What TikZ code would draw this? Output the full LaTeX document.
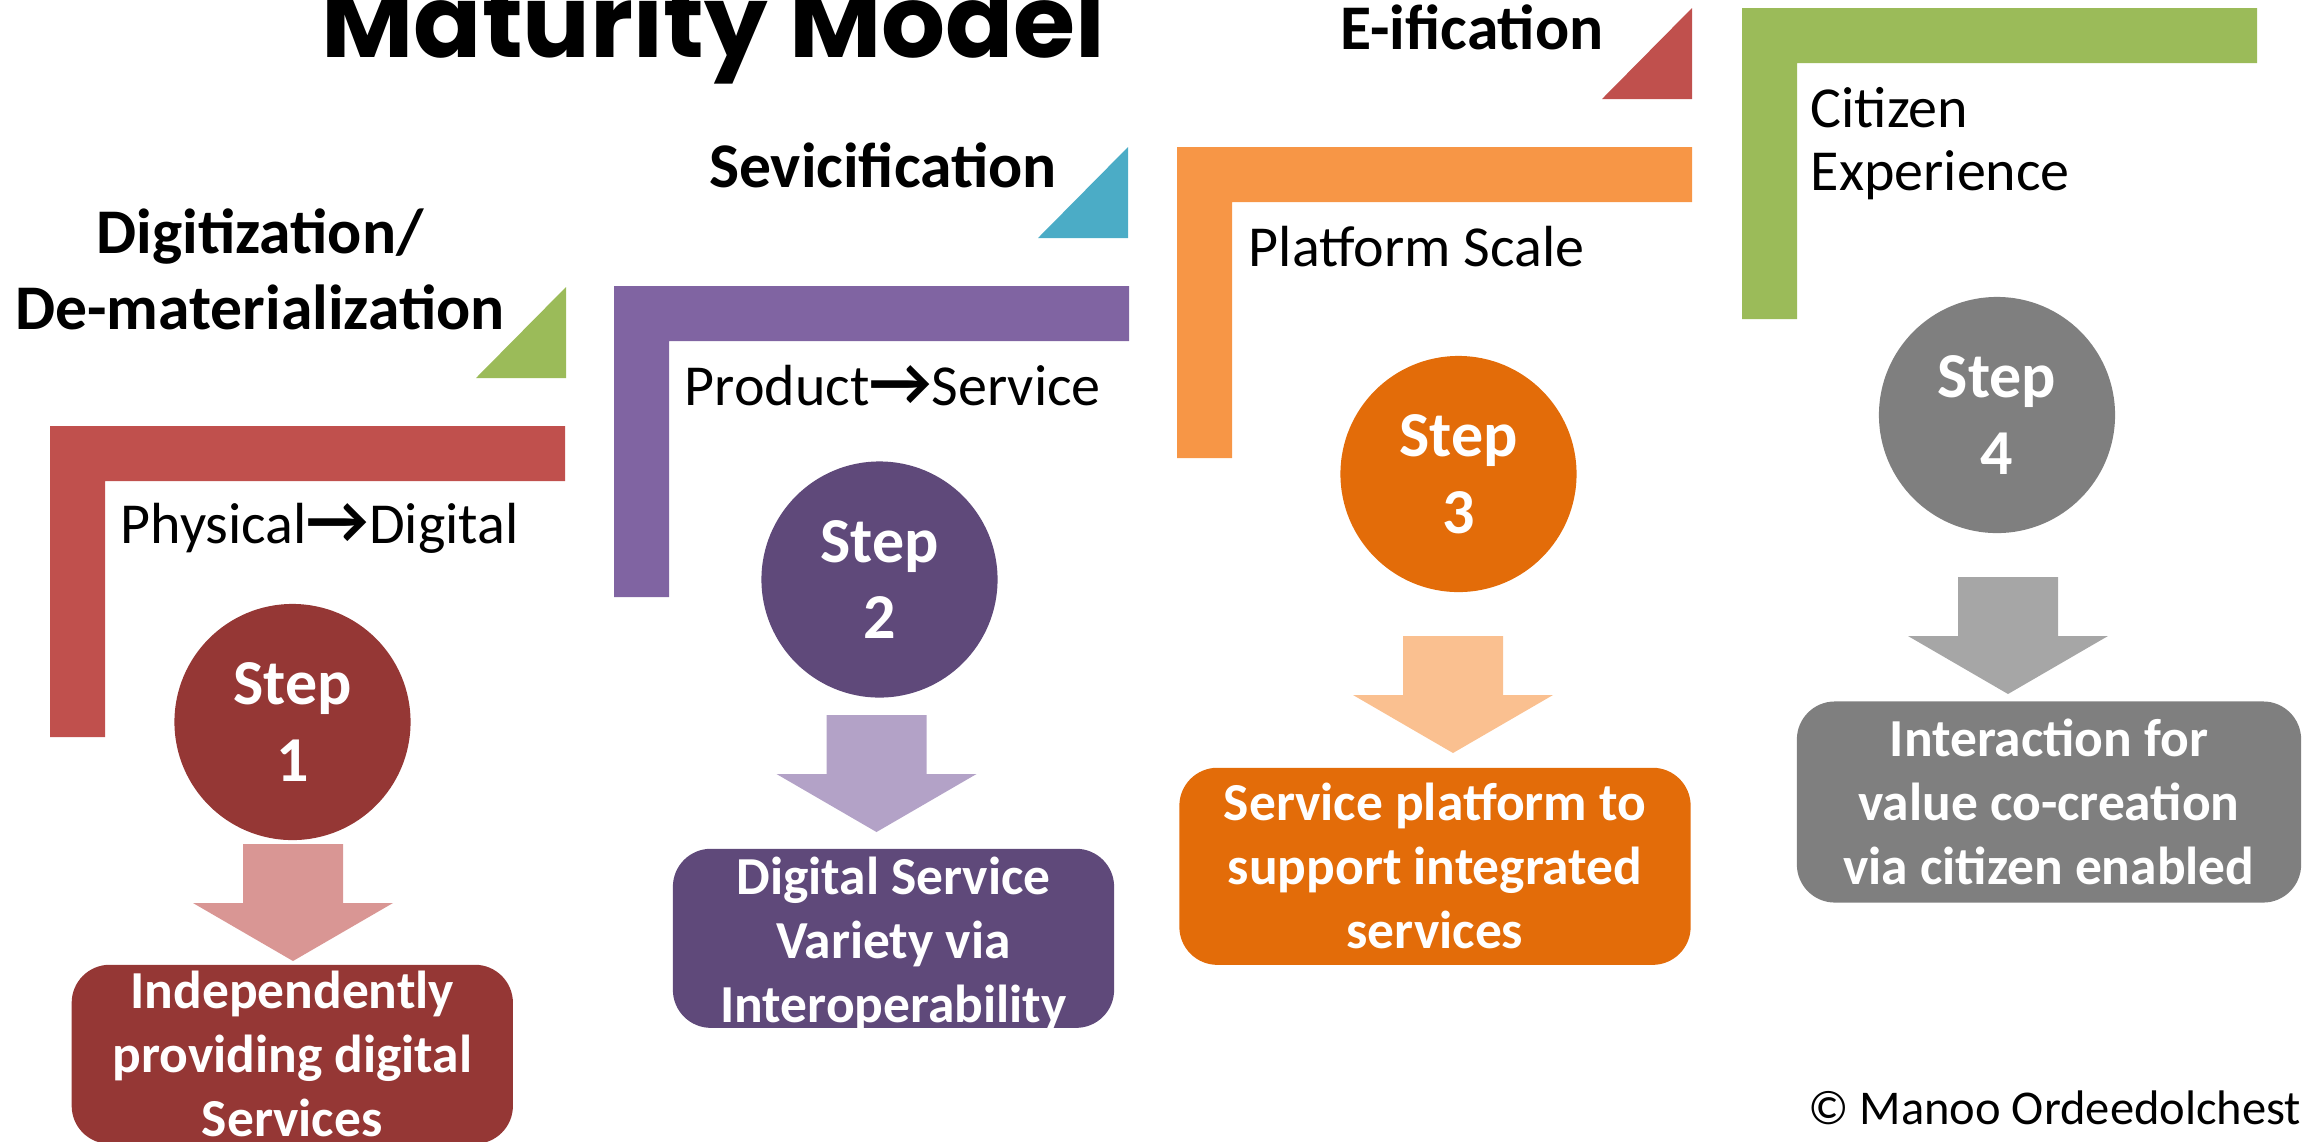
\documentclass[tikz,border=0pt]{standalone}
\usepackage{fontspec}
\setmainfont{Carlito}
\newfontfamily\titlefont{Poppins}
\definecolor{stairred}{HTML}{C0504D}
\definecolor{stairpurple}{HTML}{8064A2}
\definecolor{stairorange}{HTML}{F79646}
\definecolor{stairgreen}{HTML}{9BBB59}
\definecolor{wedgeblue}{HTML}{4BACC6}
\definecolor{stepone}{HTML}{953735}
\definecolor{steptwo}{HTML}{5F497A}
\definecolor{stepthree}{HTML}{E36C09}
\definecolor{stepfour}{HTML}{7F7F7F}
\definecolor{arrowone}{HTML}{D99694}
\definecolor{arrowtwo}{HTML}{B3A2C7}
\definecolor{arrowthree}{HTML}{FAC090}
\definecolor{arrowfour}{HTML}{A6A6A6}
\newcommand{\toarrow}{{\fontsize{19.5}{17.8}\selectfont\bfseries →}}
\tikzset{%
  stepcircle/.style = {shape=circle, inner sep=0pt, minimum size=2.36cm,%
                       align=center, text=white,%
                       font=\fontsize{18.2}{21.8}\selectfont\bfseries},%
  boxtext/.style    = {inner sep=0pt, align=center, text=white,%
                       font=\fontsize{15.2}{18.2}\selectfont\bfseries},%
  stepbox/.style    = {boxtext, shape=rectangle, rounded corners=0.38cm},%
  phaselabel/.style = {inner sep=0pt, align=center,%
                       font=\fontsize{18.1}{21.6}\selectfont\bfseries},%
  shiftlabel/.style = {inner sep=0pt, align=left,%
                       font=\fontsize{16.5}{17.8}\selectfont},%
  stair/.pic        = {\fill (0,0) -- (515,0) -- (515,55) -- (55,55) -- (55,311) -- (0,311) -- cycle;},%
  wedge/.pic        = {\fill (0,0) -- (-90,0) -- (0,-91) -- cycle;},%
  downarrow/.pic    = {\fill (-50,0) -- (50,0) -- (50,59) -- (100,59) -- (0,117) -- (-100,59) -- (-50,59) -- cycle;}%
}
\begin{document}
\begin{tikzpicture}[x=0.01cm, y=-0.01cm]%
	\useasboundingbox (0,0) rectangle (2314,1141);%
	\clip (0,0) rectangle (2314,1141);%
	\node[anchor=base, inner sep=0pt, font=\titlefont\bfseries\fontsize{28.6}{34}\selectfont] (title) at (713.5,57) {Maturity Model};%
	% stairs and wedges
	\pic[fill=stairred] at (50,426) {stair};%
	\pic[fill=stairpurple] at (614,286) {stair};%
	\pic[fill=stairorange] at (1177,147) {stair};%
	\pic[fill=stairgreen] at (1742,8) {stair};%
	\pic[fill=stairgreen] at (566,378) {wedge};%
	\pic[fill=wedgeblue] at (1128,238) {wedge};%
	\pic[fill=stairred] at (1692,99) {wedge};%
	% phase names (base = last line)
	\node[phaselabel, anchor=base] (phase1) at (260,329) {Digitization/\\De-materialization};%
	\node[phaselabel, anchor=base] (phase2) at (883,187.5) {Sevicification};%
	\node[phaselabel, anchor=base] (phase3) at (1472,49) {E-ification};%
	\node[shiftlabel, anchor=base west] (shift1) at (120,543.5) {Physical\toarrow Digital};%
	\node[shiftlabel, anchor=base west] (shift2) at (684,405.7) {Product\toarrow Service};%
	\node[shiftlabel, anchor=base west] (shift3) at (1248,266) {Platform Scale};%
	\node[shiftlabel, anchor=base west] (shift4) at (1810,190) {Citizen\\Experience};%
	% steps
	\node[stepcircle, fill=stepone] (c1) at (292.5,722) {Step\\1};%
	\node[stepcircle, fill=steptwo] (c2) at (879.5,579.5) {Step\\2};%
	\node[stepcircle, fill=stepthree] (c3) at (1458.5,474) {Step\\3};%
	\node[stepcircle, fill=stepfour] (c4) at (1997,415) {Step\\4};%
	\pic[fill=arrowone] at (293,844) {downarrow};%
	\pic[fill=arrowtwo] at (876.5,715) {downarrow};%
	\pic[fill=arrowthree] at (1453,636) {downarrow};%
	\pic[fill=arrowfour] at (2008,577) {downarrow};%
	\node[stepbox, fill=stepone, minimum width=4.41cm, minimum height=1.79cm] (b1) at (292.3,1054.3) {Independently\\providing digital\\Services};%
	\node[stepbox, fill=steptwo, minimum width=4.41cm, minimum height=1.79cm] (b2) at (893.5,938.3) {};%
	\node[boxtext] (t2) at (893.5,944) {Digital Service\\Variety via\\Interoperability};%
	\node[stepbox, fill=stepthree, minimum width=5.11cm, minimum height=1.97cm] (b3) at (1435,866.3) {Service platform to\\support integrated\\services};%
	\node[stepbox, fill=stepfour, minimum width=5.04cm, minimum height=2.01cm] (b4) at (2049,802) {Interaction for\\value co-creation\\via citizen enabled};%
	\node[anchor=base east, inner sep=0pt, font=\fontsize{13.8}{16}\selectfont] (copy) at (2302,1124) {© Manoo Ordeedolchest};%
\end{tikzpicture}
\end{document}
